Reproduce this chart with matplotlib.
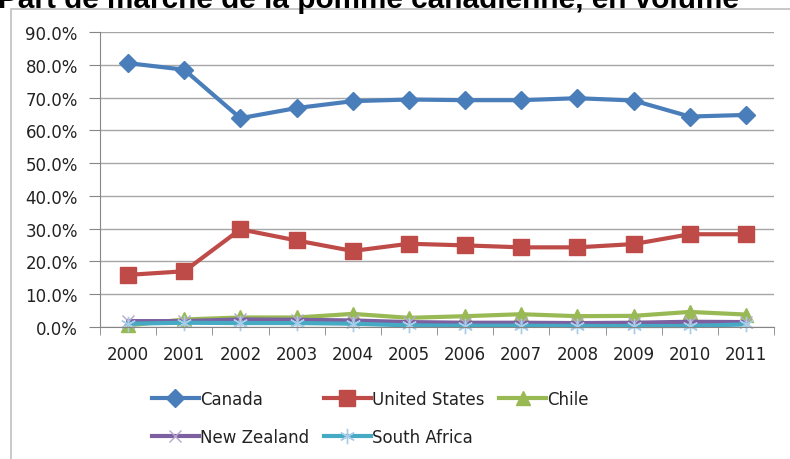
import matplotlib
matplotlib.use('Agg')
import matplotlib.pyplot as plt
from matplotlib.patches import Rectangle
from matplotlib.ticker import FuncFormatter

# data (share of volume, %)
years = ['2000', '2001', '2002', '2003', '2004', '2005',
         '2006', '2007', '2008', '2009', '2010', '2011']
canada = [80.5, 78.5, 63.7, 66.8, 68.9, 69.4, 69.2, 69.2, 69.8, 69.1, 64.2, 64.7]
united_states = [15.9, 17.0, 29.8, 26.4, 23.2, 25.4, 24.9, 24.3, 24.3, 25.3, 28.3, 28.3]
chile = [0.5, 2.3, 2.9, 2.9, 4.0, 2.8, 3.3, 3.9, 3.3, 3.4, 4.6, 3.8]
new_zealand = [1.8, 1.8, 2.3, 2.2, 2.0, 1.5, 1.3, 1.3, 1.2, 1.3, 1.6, 1.5]
south_africa = [1.0, 1.3, 1.2, 1.2, 1.0, 0.5, 0.4, 0.4, 0.3, 0.3, 0.3, 0.8]
yticks = [0, 10, 20, 30, 40, 50, 60, 70, 80, 90]

title = 'Part de marché de la pomme canadienne, en volume'

plt.rcParams['font.family'] = ['DejaVu Sans']

W, H = 790, 460
fig = plt.figure(figsize=(W / 100, H / 100), dpi=100)

# outer chart frame (only left/top edges visible in the crop)
fig.patches.append(Rectangle((11 / W, -0.1), 1.2, 1 - 10 / H + 0.1,
                             transform=fig.transFigure, fill=False,
                             edgecolor='#BFBFBF', linewidth=1.2))

# title, cut off at the top edge as in the source image
fig.text(-0.002, 1 - 8 / H, title, fontsize=21.4, fontweight='bold',
         family='Liberation Sans', ha='left', va='baseline', color='black')

ax = fig.add_axes([100 / W, 1 - 328 / H, (774 - 100) / W, (328 - 33) / H])

x = list(range(len(years)))
series = [
    ('Canada', canada, '#4A7EBB', 'D', 9.5, '#4A7EBB'),
    ('United States', united_states, '#BE4B48', 's', 11, '#BE4B48'),
    ('Chile', chile, '#98B954', '^', 10, '#98B954'),
    ('New Zealand', new_zealand, '#7D60A0', 'x', 9, '#B9A6CF'),
    ('South Africa', south_africa, '#46AAC5', (6, 2, 0), 11, '#A9CCE8'),
]

handles = {}
for name, vals, col, mk, ms, mec in series:
    line, = ax.plot(x, vals, color=col, linewidth=3, marker=mk, markersize=ms,
                    markerfacecolor=col, markeredgecolor=mec, markeredgewidth=1,
                    label=name, clip_on=False)
    handles[name] = line

ax.set_xlim(-0.5, len(years) - 0.5)
ax.set_ylim(0, 90)
ax.set_yticks(yticks)
ax.yaxis.set_major_formatter(FuncFormatter(lambda v, p: f'{v:.1f}%'))
ax.grid(axis='y', color='#A6A6A6', linewidth=1)
ax.set_axisbelow(True)

ax.set_xticks(x)
ax.set_xticklabels(years)
ax.set_xticks([i - 0.5 for i in range(len(years) + 1)], minor=True)
ax.tick_params(axis='x', which='major', length=0, pad=13, labelsize=12, labelcolor='#222222')
ax.tick_params(axis='x', which='minor', length=6, color='#868686', direction='out')
ax.tick_params(axis='y', length=8, color='#868686', pad=8, labelsize=12, labelcolor='#222222')

for side in ['top', 'right']:
    ax.spines[side].set_visible(False)
for side in ['left', 'bottom']:
    ax.spines[side].set_color('#868686')

# legend laid out row by row like the original
order = ['Canada', 'New Zealand', 'United States', 'South Africa', 'Chile']
fig.legend([handles[n] for n in order], order, loc='upper left',
           bbox_to_anchor=(152 / W, 1 - 391 / H), ncol=3, frameon=False,
           fontsize=12, handlelength=2.8, handletextpad=0.1,
           columnspacing=0.87, labelspacing=1.2, borderpad=0, borderaxespad=0,
           labelcolor='#222222')

fig.savefig('out.png', dpi=100)
